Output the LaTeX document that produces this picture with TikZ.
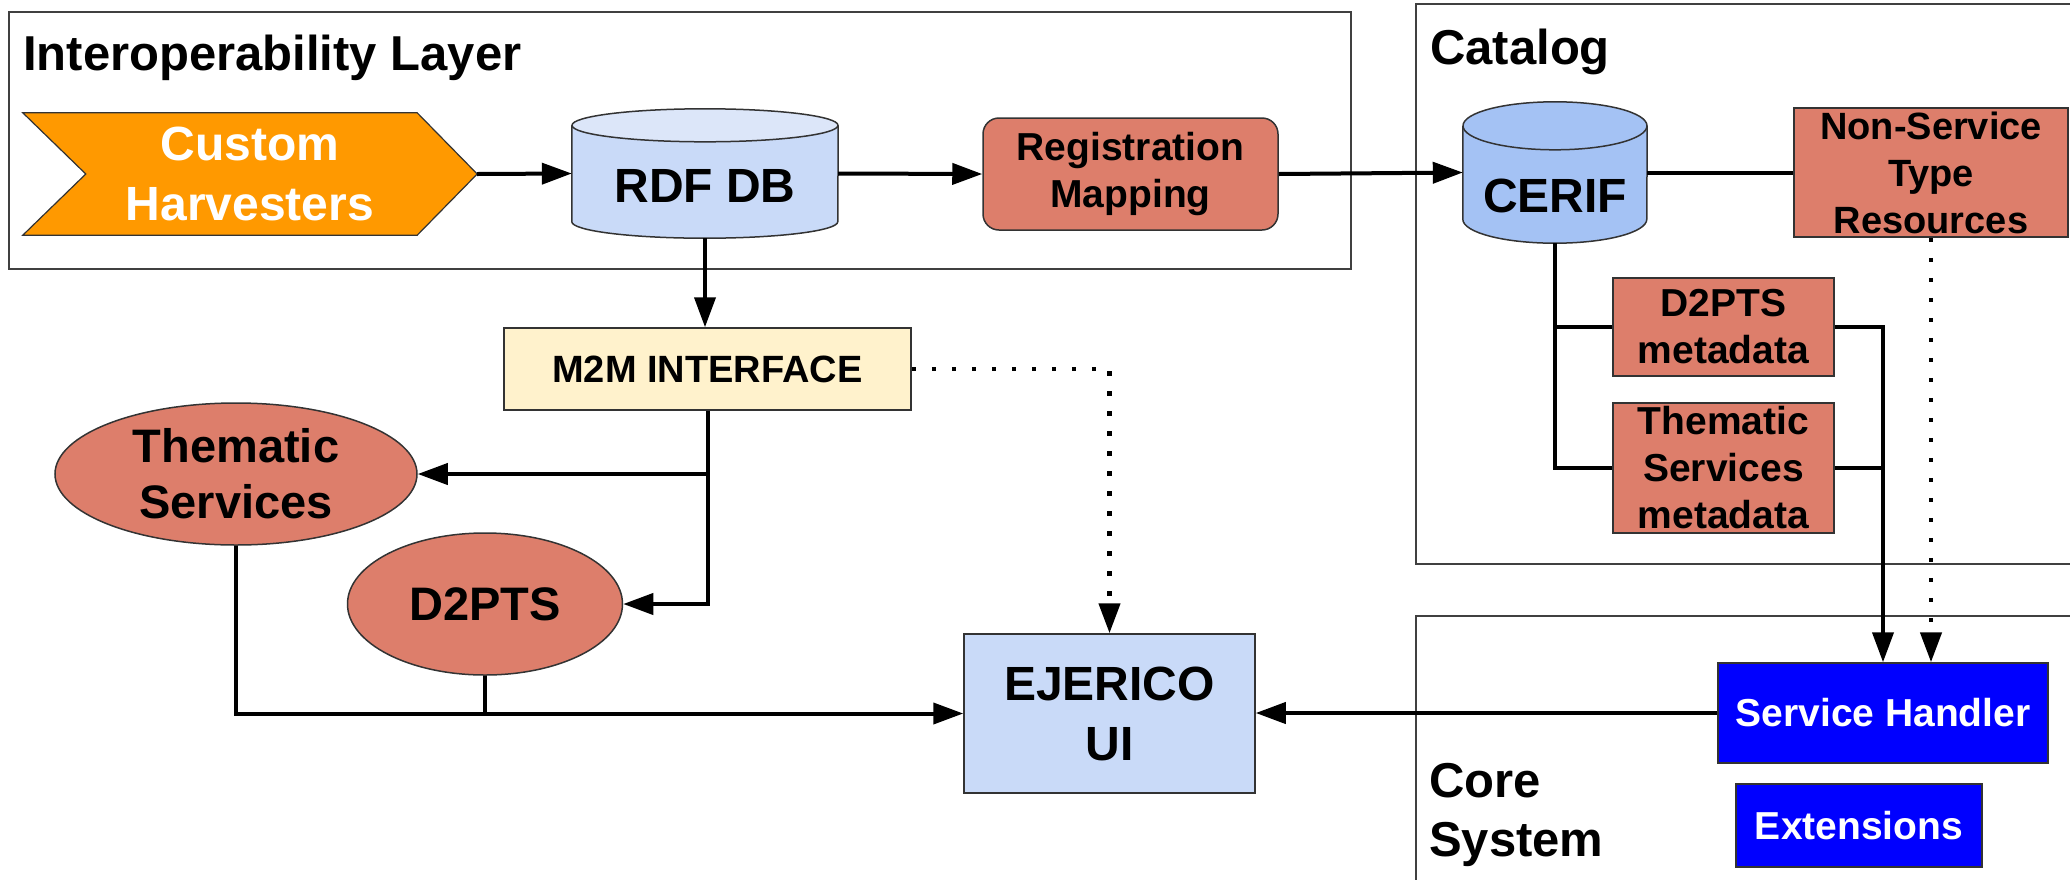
\documentclass[tikz,border=0pt]{standalone}
\usepackage{fontspec}
\setmainfont{Liberation Sans}
\usetikzlibrary{shapes.geometric, arrows.meta, calc, backgrounds}

\definecolor{salmon}{HTML}{DD7E6B}
\definecolor{harvestorange}{HTML}{FF9900}
\definecolor{paleblue}{HTML}{C9DAF8}
\definecolor{palertop}{HTML}{DCE6F9}
\definecolor{cerifblue}{HTML}{A4C2F4}
\definecolor{cream}{HTML}{FFF2CC}
\definecolor{coreblue}{HTML}{0000FF}
\definecolor{edgegray}{HTML}{333333}
\definecolor{framegray}{HTML}{404040}

\tikzstyle{frame} = [draw=framegray, line width=2.2pt]
\tikzstyle{heading} = [inner sep=0pt, font=\fontsize{49}{59}\selectfont\bfseries]
\tikzstyle{harvester} = [rectangle, inner sep=0pt, align=center, text=white, font=\fontsize{48}{60}\selectfont\bfseries]
\tikzstyle{store} = [rectangle, inner sep=0pt]
\tikzstyle{storetext} = [inner sep=0pt, font=\fontsize{48}{58}\selectfont\bfseries]
\tikzstyle{salmonbox} = [rectangle, draw=edgegray, line width=1.5pt, fill=salmon, inner sep=0pt, align=center, font=\fontsize{39}{47}\selectfont\bfseries]
\tikzstyle{salmonoval} = [ellipse, draw=edgegray, line width=1.5pt, fill=salmon, inner sep=0pt, align=center, font=\fontsize{47}{56}\selectfont\bfseries]
\tikzstyle{creambox} = [rectangle, draw=edgegray, line width=1.5pt, fill=cream, inner sep=0pt, font=\fontsize{38}{46}\selectfont\bfseries]
\tikzstyle{uibox} = [rectangle, draw=edgegray, line width=1.5pt, fill=paleblue, inner sep=0pt, align=center, font=\fontsize{48}{60}\selectfont\bfseries]
\tikzstyle{corebox} = [rectangle, draw=edgegray, line width=1.5pt, fill=coreblue, text=white, inner sep=0pt, font=\fontsize{39}{47}\selectfont\bfseries]
\tikzstyle{flow} = [line width=4pt, -{Triangle[length=30pt, width=21pt]}]
\tikzstyle{link} = [line width=4pt]
\tikzstyle{hint} = [line width=4.5pt, dash pattern=on 4.5pt off 15.5pt, -{Triangle[length=30pt, width=21pt]}]

\newcommand{\drum}[5]{%
  \begin{scope}[on background layer]
    \fill[#4] ($(#1.north west)+(0,#3)$) -- ($(#1.south west)+(0,-#3)$)
      arc[start angle=180, end angle=360, x radius=#2pt, y radius=#3pt]
      -- ($(#1.north east)+(0,#3)$) -- cycle;
    \draw[edgegray, line width=1.5pt] ($(#1.north west)+(0,#3)$) -- ($(#1.south west)+(0,-#3)$)
      arc[start angle=180, end angle=360, x radius=#2pt, y radius=#3pt]
      -- ($(#1.north east)+(0,#3)$);
    \draw[edgegray, line width=1.5pt, fill=#5] ($(#1.north)+(0,#3)$) ellipse [x radius=#2pt, y radius=#3pt];
  \end{scope}}

\begin{document}
\begin{tikzpicture}[x=1pt, y=-1pt]
    \useasboundingbox (0,0) rectangle (2070,879);
    \clip (0,0) rectangle (2070,879);

    \draw[frame] (9,12) rectangle (1351,269);
    \draw[frame] (1416,4) rectangle (2100,564);
    \draw[frame] (1416,616) rectangle (2100,900);

    \node[heading, anchor=base west] (interoptitle) at (23,70) {Interoperability Layer};
    \node[heading, anchor=base west] (catalogtitle) at (1430,64) {Catalog};
    \node[heading, anchor=north west, align=left] (coretitle) at (1429,763) {Core\\System};

    \node[harvester, minimum width=454, minimum height=122] (harv) at (250,174) {Custom\\Harvesters};
    \begin{scope}[on background layer]
        \draw[edgegray, line width=1.2pt, fill=harvestorange]
            (harv.north west) -- ($(harv.north east)+(-60,0)$) -- (harv.east)
            -- ($(harv.south east)+(-60,0)$) -- (harv.south west) -- ($(harv.west)+(63,0)$) -- cycle;
    \end{scope}

    \node[store, minimum width=266, minimum height=129,
          label={[storetext, name=rdftext, yshift=-12.5pt]center:RDF DB}] (rdf) at (705,173.5) {};
    \drum{rdf}{133}{16.5}{paleblue}{palertop}

    \node[salmonbox, rounded corners=16pt, minimum width=295, minimum height=112] (reg) at (1130.5,174) {Registration\\Mapping};

    \node[store, minimum width=184, minimum height=141,
          label={[storetext, name=ceriftext, yshift=-23.5pt]center:CERIF}] (cerif) at (1555,172.5) {};
    \drum{cerif}{92}{24}{cerifblue}{cerifblue}

    \node[salmonbox, font=\fontsize{38}{47}\selectfont\bfseries, minimum width=274, minimum height=129] (nonsvc) at (1931,172.5) {Non-Service\\Type\\Resources};
    \node[salmonbox, minimum width=221, minimum height=98] (d2meta) at (1723.5,327) {D2PTS\\metadata};
    \node[salmonbox, minimum width=221, minimum height=130] (thmeta) at (1723.5,468) {Thematic\\Services\\metadata};

    \node[creambox, minimum width=407, minimum height=82] (m2m) at (707.5,369) {M2M INTERFACE};
    \node[salmonoval, minimum width=362, minimum height=142] (them) at (236,474) {Thematic\\Services};
    \node[salmonoval, minimum width=275, minimum height=142] (d2pts) at (485,604) {D2PTS};
    \node[uibox, minimum width=291, minimum height=159] (ejer) at (1109.5,713.5) {EJERICO\\UI};

    \node[corebox, minimum width=330, minimum height=100] (handler) at (1883,713) {Service Handler};
    \node[corebox, minimum width=246, minimum height=83] (ext) at (1859,825.5) {Extensions};

    \draw[flow] (harv.east) -- (rdf.west);
    \draw[flow] (rdf.east) -- (reg.west);
    \draw[flow] (reg.east) -- (cerif.west);
    \draw[link] (cerif.east) -- (nonsvc.west);
    \draw[link] (cerif.south) |- (d2meta.west);
    \draw[link] (cerif.south) |- (thmeta.west);
    \draw[flow] (d2meta.east) -| (handler.north);
    \draw[link] (thmeta.east) -- (thmeta.east -| handler.north);
    \draw[hint] (nonsvc.south) -- (nonsvc.south |- handler.north);

    \draw[flow] (rdf.south) -- (rdf.south |- m2m.north);
    \draw[flow] (m2m.south) |- (them.east);
    \draw[flow] (m2m.south) |- (d2pts.east);
    \draw[hint] (m2m.east) -| (ejer.north);
    \draw[flow] (them.south) |- (ejer.west);
    \draw[link] (d2pts.south) -- (d2pts.south |- ejer.west);
    \draw[flow] (handler.west) -- (handler.west -| ejer.east);
\end{tikzpicture}
\end{document}
